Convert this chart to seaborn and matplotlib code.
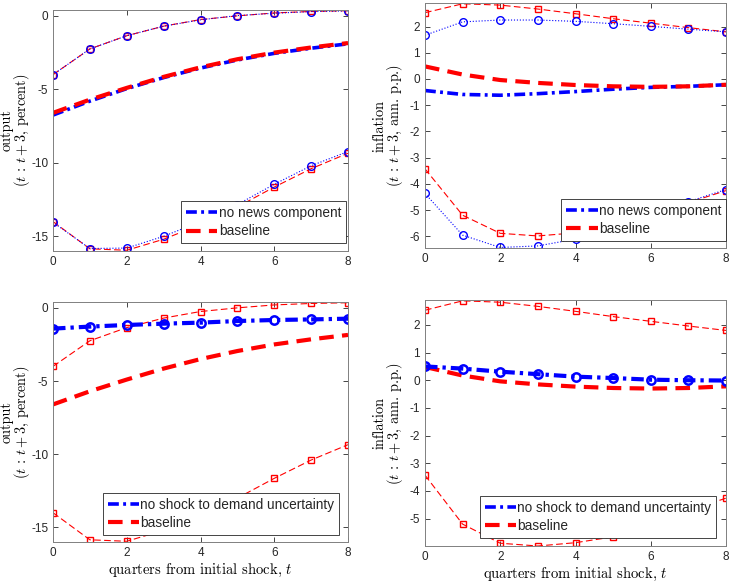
import numpy as np
import pandas as pd
import matplotlib
matplotlib.use("Agg")
import matplotlib.pyplot as plt
import seaborn as sns
from matplotlib.lines import Line2D

# ======================
# data
# ======================
quarters = [0, 1, 2, 3, 4, 5, 6, 7, 8]

out_base = [-6.6, -5.7, -4.9, -4.15, -3.5, -2.95, -2.5, -2.15, -1.85]
out_base_hi = [-4.0, -2.25, -1.35, -0.7, -0.25, 0.0, 0.2, 0.3, 0.35]
out_base_lo = [-14.0, -15.85, -15.95, -15.2, -14.2, -13.0, -11.65, -10.4, -9.35]
out_nonews = [-6.75, -5.8, -4.95, -4.2, -3.55, -3.0, -2.55, -2.2, -1.9]
out_nonews_hi = [-4.0, -2.25, -1.35, -0.7, -0.27, 0.02, 0.18, 0.29, 0.34]
out_nonews_lo = [-14.05, -15.83, -15.8, -15.0, -14.0, -12.84, -11.46, -10.2, -9.23]
out_nodemand = [-1.42, -1.28, -1.17, -1.08, -1.01, -0.9, -0.83, -0.79, -0.74]

inf_base = [0.48, 0.17, -0.04, -0.15, -0.23, -0.28, -0.3, -0.28, -0.22]
inf_base_hi = [2.53, 2.87, 2.82, 2.67, 2.49, 2.30, 2.13, 1.96, 1.80]
inf_base_lo = [-3.43, -5.2, -5.89, -5.99, -5.87, -5.66, -5.25, -4.72, -4.26]
inf_nonews = [-0.44, -0.59, -0.62, -0.56, -0.48, -0.39, -0.32, -0.28, -0.22]
inf_nonews_hi = [1.67, 2.18, 2.25, 2.25, 2.2, 2.11, 2.01, 1.9, 1.8]
inf_nonews_lo = [-4.37, -5.96, -6.43, -6.37, -6.11, -5.7, -5.2, -4.68, -4.22]
inf_nodemand = [0.5, 0.42, 0.31, 0.22, 0.13, 0.08, 0.02, 0.0, -0.01]

lab_nonews = "no news component"
lab_nodemand = "no shock to demand uncertainty"
lab_base = "baseline"

ylab_out = "output\n($t$ : $t + 3$, percent)"
ylab_inf = "inflation\n($t$ : $t + 3$, ann. p.p.)"
xlab = "quarters from initial shock, $t$"

# ======================
# style
# ======================
sns.set_style("ticks")
plt.rcParams['font.family'] = ['Liberation Sans', 'DejaVu Sans']
plt.rcParams['mathtext.fontset'] = 'cm'
plt.rcParams['axes.unicode_minus'] = False

BLUE = (0, 0, 1)
RED = (1, 0, 0)
GREY = (0.15, 0.15, 0.15)

base_ls = (0, (3.5, 2.0))
alt_ls = (0, (3.0, 1.2, 0.8, 1.2))
band_ls = (0, (6, 3))

fig = plt.figure(figsize=(7.29, 5.86), dpi=100)
W, H = 729, 586


def axes_px(l, t, r, b):
    return fig.add_axes([l / W, 1 - b / H, (r - l) / W, (b - t) / H])


ax_tl = axes_px(53, 10, 348, 251)
ax_tr = axes_px(425, 3, 726, 248)
ax_bl = axes_px(53, 302, 348, 542)
ax_br = axes_px(425, 300, 726, 546)


def band(ax, y, color, ls, marker, ms):
    sns.lineplot(x=quarters, y=y, ax=ax, color=color, linestyle=ls, lw=0.8,
                 marker=marker, markersize=ms, markerfacecolor='none',
                 markeredgecolor=color, markeredgewidth=1.0, legend=False)


def median(ax, y, color, ls, lw, marker=None):
    kw = {}
    if marker:
        kw = dict(marker=marker, markersize=6, markerfacecolor='none',
                  markeredgecolor=color, markeredgewidth=1.8)
    sns.lineplot(x=quarters, y=y, ax=ax, color=color, linestyle=ls, lw=lw,
                 legend=False, **kw)


# top-left: output, no news
band(ax_tl, out_base_hi, RED, band_ls, 's', 4.5)
band(ax_tl, out_base_lo, RED, band_ls, 's', 4.5)
band(ax_tl, out_nonews_hi, BLUE, ':', 'o', 5.5)
band(ax_tl, out_nonews_lo, BLUE, ':', 'o', 5.5)
median(ax_tl, out_nonews, BLUE, alt_ls, 2.6)
median(ax_tl, out_base, RED, base_ls, 3.0)

# top-right: inflation, no news
band(ax_tr, inf_base_hi, RED, band_ls, 's', 4.5)
band(ax_tr, inf_base_lo, RED, band_ls, 's', 4.5)
band(ax_tr, inf_nonews_hi, BLUE, ':', 'o', 5.5)
band(ax_tr, inf_nonews_lo, BLUE, ':', 'o', 5.5)
median(ax_tr, inf_nonews, BLUE, alt_ls, 2.6)
median(ax_tr, inf_base, RED, base_ls, 3.0)

# bottom-left: output, no demand uncertainty shock
band(ax_bl, out_base_hi, RED, band_ls, 's', 4.5)
band(ax_bl, out_base_lo, RED, band_ls, 's', 4.5)
median(ax_bl, out_base, RED, base_ls, 3.0)
median(ax_bl, out_nodemand, BLUE, alt_ls, 3.0, marker='o')

# bottom-right: inflation, no demand uncertainty shock
band(ax_br, inf_base_hi, RED, band_ls, 's', 4.5)
band(ax_br, inf_base_lo, RED, band_ls, 's', 4.5)
median(ax_br, inf_base, RED, base_ls, 3.0)
median(ax_br, inf_nodemand, BLUE, alt_ls, 3.0, marker='o')

# ======================
# axes cosmetics
# ======================
setup = [
    (ax_tl, (-16, 0.4), [-15, -10, -5, 0], ylab_out, None, lab_nonews, (0.993, 0.033), -0.072),
    (ax_tr, (-6.45, 2.9), [-6, -5, -4, -3, -2, -1, 0, 1, 2], ylab_inf, None, lab_nonews, (1.0, 0.03), -0.068),
    (ax_bl, (-16, 0.4), [-15, -10, -5, 0], ylab_out, xlab, lab_nodemand, (0.97, 0.03), -0.072),
    (ax_br, (-5.99, 2.9), [-5, -4, -3, -2, -1, 0, 1, 2], ylab_inf, xlab, lab_nodemand, (0.967, 0.033), -0.068),
]

for ax, ylim, yt, ylab, xl, alt_lab, anchor, ylx in setup:
    ax.set_xlim(0, 8)
    ax.set_ylim(*ylim)
    ax.set_xticks([0, 2, 4, 6, 8])
    ax.set_yticks(yt)
    ax.tick_params(direction='in', top=True, right=True, length=3.5, width=0.6,
                   colors=GREY, labelsize=8.5, labelcolor=GREY, pad=3.5)
    for sp in ax.spines.values():
        sp.set_visible(True)
        sp.set_color((0.5, 0.5, 0.5))
        sp.set_linewidth(0.7)
    ax.set_ylabel(ylab, fontsize=10.3, color='black', linespacing=0.85,
                  family='cmr10')
    ax.yaxis.set_label_coords(ylx, 0.5)
    if xl:
        ax.set_xlabel(xl, fontsize=10.5, color='black', labelpad=2, family='cmr10')
    else:
        ax.set_xlabel("")
    handles = [
        Line2D([], [], color=BLUE, lw=2.6, linestyle=alt_ls),
        Line2D([], [], color=RED, lw=3.0, linestyle=base_ls),
    ]
    leg = ax.legend(handles, [alt_lab, lab_base], loc='lower right',
                    bbox_to_anchor=anchor, fontsize=9.8, frameon=True,
                    fancybox=False, edgecolor=GREY, framealpha=1,
                    handlelength=2.3, handletextpad=0.1, borderpad=0.35,
                    labelspacing=0.3, borderaxespad=0.0)
    leg.get_frame().set_linewidth(0.6)

fig.savefig("out.png", dpi=100)
